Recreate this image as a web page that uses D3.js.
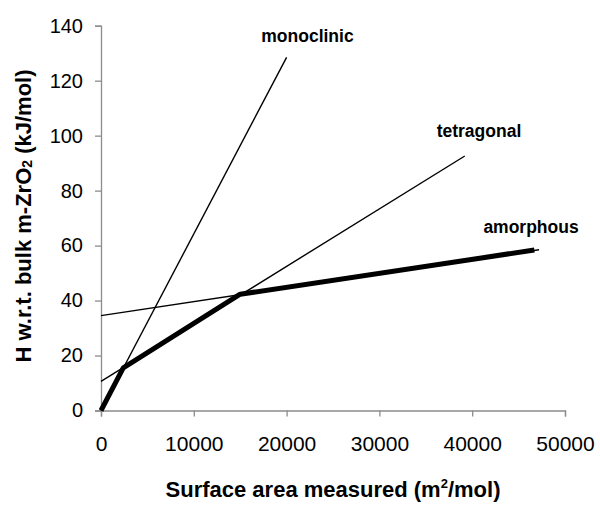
<!DOCTYPE html>
<html>
<head>
<meta charset="utf-8">
<script src="https://cdn.jsdelivr.net/npm/d3@7"></script>
<style>
  body { margin: 0; background: #fff; }
  text { font-family: "Liberation Sans", Arial, sans-serif; fill: #000; }
</style>
</head>
<body>
<svg id="chart" width="600" height="518"></svg>
<script>
// ---- data ----
const xTicks = [0, 10000, 20000, 30000, 40000, 50000];
const yTicks = [0, 20, 40, 60, 80, 100, 120, 140];

const monoclinicX = [0, 20000];
const monoclinicY = [0, 128.5];

const tetragonalX = [0, 39200];
const tetragonalY = [10.6, 92.6];

const amorphousX = [0, 47200];
const amorphousY = [34.5, 58.5];

// measured envelope (thick)
const envelopeX = [0, 2400, 15000, 46700];
const envelopeY = [0, 15.5, 42.3, 58.4];

const labels = ["monoclinic", "tetragonal", "amorphous"];
const labelX = [22250, 40730, 46340];
const labelY = [134.1, 99.5, 64.6];

// ---- chart ----
const svg = d3.select("#chart");
const x = d3.scaleLinear().domain([0, 50000]).range([101, 565]);
const y = d3.scaleLinear().domain([0, 140]).range([410.5, 25.7]);

const axisColor = "#8c8c8c";

const xAxis = svg.append("g").attr("transform", `translate(0,${y(0)})`)
  .call(d3.axisBottom(x).tickValues(xTicks).tickSize(6).tickPadding(20).tickFormat(d3.format("d")));
const yAxis = svg.append("g").attr("transform", `translate(${x(0)},0)`)
  .call(d3.axisLeft(y).tickValues(yTicks).tickSize(6).tickPadding(12));

[xAxis, yAxis].forEach(g => {
  g.select(".domain").attr("stroke", axisColor).attr("stroke-width", 1.3);
  g.selectAll(".tick line").attr("stroke", axisColor).attr("stroke-width", 1.3);
  g.selectAll(".tick text").attr("fill", "#000");
});
xAxis.selectAll(".tick text").style("font-size", "21px");
yAxis.selectAll(".tick text").style("font-size", "20px");

const line = d3.line().x(d => x(d[0])).y(d => y(d[1]));
const zip = (a, b) => a.map((v, i) => [v, b[i]]);

const plot = svg.append("g");
plot.append("path").datum(zip(monoclinicX, monoclinicY)).attr("d", line)
  .attr("fill", "none").attr("stroke", "#000").attr("stroke-width", 1.4);
plot.append("path").datum(zip(tetragonalX, tetragonalY)).attr("d", line)
  .attr("fill", "none").attr("stroke", "#000").attr("stroke-width", 1.4);
plot.append("path").datum(zip(amorphousX, amorphousY)).attr("d", line)
  .attr("fill", "none").attr("stroke", "#000").attr("stroke-width", 1.4);
plot.append("path").datum(zip(envelopeX, envelopeY)).attr("d", line)
  .attr("fill", "none").attr("stroke", "#000").attr("stroke-width", 5)
  .attr("stroke-linejoin", "round");

labels.forEach((t, i) => {
  svg.append("text").attr("x", x(labelX[i])).attr("y", y(labelY[i]))
    .attr("text-anchor", "middle").style("font-size", "17.5px").style("font-weight", "bold").text(t);
});

// axis titles
const xt = svg.append("text").attr("x", 333).attr("y", 497).attr("text-anchor", "middle")
  .style("font-size", "22px").style("font-weight", "bold");
xt.append("tspan").text("Surface area measured (m");
xt.append("tspan").text("2").style("font-size", "13px").attr("dy", -9);
xt.append("tspan").text("/mol)").attr("dy", 9);

const yt = svg.append("text").attr("transform", "translate(31,216) rotate(-90)")
  .attr("text-anchor", "middle").style("font-size", "22px").style("font-weight", "bold");
yt.append("tspan").text("H w.r.t. bulk m-ZrO");
yt.append("tspan").text("2").style("font-size", "14px").attr("dy", 1);
yt.append("tspan").text(" (kJ/mol)").attr("dy", -1);
</script>
</body>
</html>
